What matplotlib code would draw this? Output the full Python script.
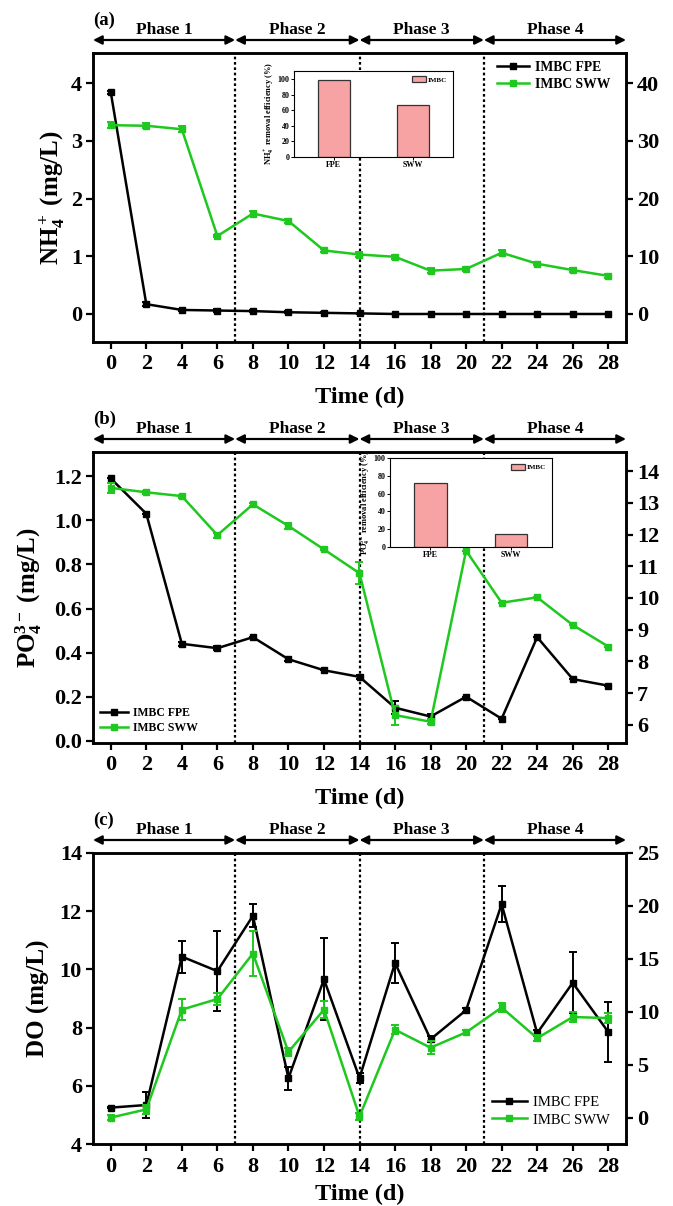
import matplotlib
matplotlib.use('Agg')
import matplotlib.pyplot as plt
from matplotlib.lines import Line2D

plt.rcParams['font.family'] = ['Liberation Serif', 'DejaVu Serif']
plt.rcParams['font.weight'] = 'bold'
plt.rcParams['axes.labelweight'] = 'bold'
plt.rcParams['mathtext.fontset'] = 'custom'
plt.rcParams['mathtext.rm'] = 'Liberation Serif:bold'
plt.rcParams['mathtext.it'] = 'Liberation Serif:italic:bold'
plt.rcParams['mathtext.bf'] = 'Liberation Serif:bold'
plt.rcParams['axes.linewidth'] = 1.8

# ---------------- data ----------------
days = [0, 2, 4, 6, 8, 10, 12, 14, 16, 18, 20, 22, 24, 26, 28]
phase_labels = ['Phase 1', 'Phase 2', 'Phase 3', 'Phase 4']
phase_bounds = [-1, 7, 14, 21, 29]
series_labels = ['IMBC FPE', 'IMBC SWW']
inset_categories = ['FPE', 'SWW']

# (a) NH4+
nh4_fpe = [3.84, 0.17, 0.07, 0.06, 0.05, 0.03, 0.02, 0.01, 0.0, 0.0, 0.0, 0.0, 0.0, 0.0, 0.0]
nh4_fpe_err = [0.03, 0.03, 0.02, 0.02, 0.02, 0.02, 0.01, 0.01, 0.0, 0.0, 0.0, 0.0, 0.0, 0.0, 0.0]
nh4_sww = [32.7, 32.6, 32.0, 13.5, 17.4, 16.1, 11.0, 10.3, 9.9, 7.5, 7.8, 10.6, 8.7, 7.6, 6.6]
nh4_sww_err = [0.5, 0.4, 0.5, 0.2, 0.5, 0.4, 0.2, 0.4, 0.4, 0.4, 0.3, 0.4, 0.3, 0.3, 0.3]
nh4_eff = [99, 67]

# (b) PO4 3-
po4_fpe = [1.19, 1.03, 0.44, 0.42, 0.47, 0.37, 0.32, 0.29, 0.15, 0.11, 0.20, 0.10, 0.47, 0.28, 0.25]
po4_fpe_err = [0.0, 0.0, 0.01, 0.01, 0.0, 0.01, 0.0, 0.01, 0.03, 0.01, 0.0, 0.0, 0.0, 0.0, 0.0]
po4_sww = [13.47, 13.33, 13.21, 11.98, 12.95, 12.27, 11.53, 10.78, 6.31, 6.10, 11.49, 9.85, 10.02, 9.15, 8.47]
po4_sww_err = [0.15, 0.05, 0.05, 0.08, 0.05, 0.1, 0.03, 0.35, 0.3, 0.08, 0.0, 0.0, 0.0, 0.0, 0.0]
po4_eff = [72, 14]

# (c) DO
do_fpe = [5.25, 5.34, 10.44, 9.94, 11.84, 6.26, 9.66, 6.27, 10.22, 7.60, 8.60, 12.24, 7.81, 9.54, 7.85]
do_fpe_err = [0.03, 0.46, 0.55, 1.37, 0.4, 0.4, 1.41, 0.17, 0.68, 0.1, 0.08, 0.62, 0.1, 1.05, 1.02]
do_sww = [0.0, 0.77, 10.2, 11.2, 15.5, 6.2, 10.2, 0.1, 8.3, 6.6, 8.05, 10.4, 7.5, 9.5, 9.4]
do_sww_err = [0.2, 0.4, 1.0, 0.55, 2.1, 0.4, 0.8, 0.3, 0.4, 0.6, 0.2, 0.4, 0.3, 0.5, 0.5]

GREEN = '#1ec81e'
BAR = '#f7a3a3'

W, H = 673, 1206
fig = plt.figure(figsize=(W / 100, H / 100), dpi=100)


def fig_rect(l, t, r, b):
    return [l / W, 1 - b / H, (r - l) / W, (b - t) / H]


def panel(rect, fpe, fpe_err, sww, sww_err, ylim1, yticks1, ylim2, yticks2,
          ylabel, ylabelpad, xlabelpad, letter, leg_kw, leg_size, leg_weight):
    ax = fig.add_axes(fig_rect(*rect))
    ax2 = ax.twinx()
    ax.errorbar(days, fpe, yerr=fpe_err, color='black', lw=1.8, marker='s',
                ms=5, capsize=3, elinewidth=1.4, capthick=1.4, zorder=3)
    ax2.errorbar(days, sww, yerr=sww_err, color=GREEN, lw=1.8, marker='s',
                 ms=5, capsize=3, elinewidth=1.4, capthick=1.4, zorder=3)
    ax.set_xlim(-1, 29)
    ax.set_xticks(days)
    ax.set_ylim(*ylim1)
    ax.set_yticks(yticks1)
    ax2.set_ylim(*ylim2)
    ax2.set_yticks(yticks2)
    for a in (ax, ax2):
        a.tick_params(direction='out', length=5, width=1.6, labelsize=16, pad=3)
        for s in a.spines.values():
            s.set_linewidth(1.8)
    ax.tick_params(axis='x', pad=4)
    for xb in phase_bounds[1:-1]:
        ax.axvline(xb, color='black', ls=(0, (1.2, 1.2)), lw=1.6, zorder=1)
    ax.set_xlabel('Time (d)', fontsize=17.5, labelpad=xlabelpad)
    ax.set_ylabel(ylabel, fontsize=18, labelpad=ylabelpad)
    # phase arrows
    hpx = rect[3] - rect[1]
    ya = 1 + 13 / hpx
    yt = 1 + 23 / hpx
    for i in range(4):
        x0, x1 = phase_bounds[i], phase_bounds[i + 1]
        ax.annotate('', xy=(x1, ya), xytext=(x0, ya),
                    xycoords=('data', 'axes fraction'),
                    textcoords=('data', 'axes fraction'),
                    arrowprops=dict(arrowstyle='<|-|>', color='black', lw=1.6,
                                    mutation_scale=13, shrinkA=0, shrinkB=0),
                    annotation_clip=False)
        ax.text((x0 + x1) / 2, yt, phase_labels[i], transform=ax.get_xaxis_transform(),
                ha='center', va='center', fontsize=12.5, fontweight='bold')
    ax.text(0.0, 1 + 33 / hpx, letter, transform=ax.transAxes, ha='left',
            va='center', fontsize=13.5, fontweight='bold')
    handles = [Line2D([], [], color='black', lw=1.8, marker='s', ms=4),
               Line2D([], [], color=GREEN, lw=1.8, marker='s', ms=4)]
    ax.legend(handles, series_labels, frameon=False, borderpad=0.1,
              handlelength=2.4, handletextpad=0.4, labelspacing=0.3,
              prop={'size': leg_size, 'weight': leg_weight}, **leg_kw)
    return ax, ax2


def inset(rect, values, ylim, ylabel):
    ai = fig.add_axes(fig_rect(*rect))
    ai.bar([0, 1], values, width=0.4, color=BAR, edgecolor='#333333', lw=0.9,
           label='IMBC')
    ai.set_xlim(-0.5, 1.5)
    ai.set_ylim(*ylim)
    ai.set_yticks([0, 20, 40, 60, 80, 100])
    ai.set_xticks([0, 1])
    ai.set_xticklabels(inset_categories)
    ai.tick_params(direction='out', length=2, width=0.7, labelsize=5.8, pad=1)
    for s in ai.spines.values():
        s.set_linewidth(0.8)
    ai.set_ylabel(ylabel, fontsize=6.0, labelpad=1)
    ai.legend(loc='upper right', frameon=False, prop={'size': 5.0, 'weight': 'bold'},
              handlelength=2.0, handleheight=1.0, borderpad=0.3, handletextpad=0.3)
    return ai


# (a)
panel((93, 53, 626, 341.7), nh4_fpe, nh4_fpe_err, nh4_sww, nh4_sww_err,
      (-0.48, 4.52), [0, 1, 2, 3, 4], (-4.8, 45.2), [0, 10, 20, 30, 40],
      r'NH$_4^+$ (mg/L)', 3, 9, '(a)',
      dict(loc='upper left', bbox_to_anchor=(0.742, 1.0)), 9.8, 'bold')
inset((294, 70.7, 453, 156.7), nh4_eff, (0, 110.7),
      r'NH$_4^+$ removal efficiency (%)')

# (b)
panel((93, 452, 626, 743), po4_fpe, po4_fpe_err, po4_sww, po4_sww_err,
      (-0.01, 1.31), [0.0, 0.2, 0.4, 0.6, 0.8, 1.0, 1.2], (5.43, 14.6),
      [6, 7, 8, 9, 10, 11, 12, 13, 14],
      r'PO$_4^{3-}$ (mg/L)', 7, 9, '(b)',
      dict(loc='lower left', bbox_to_anchor=(0.0, 0.005)), 8.5, 'bold')
inset((390, 458.3, 551.7, 546.7), po4_eff, (0, 100),
      r'PO$_4^{3-}$ removal efficiency (%)')

# (c)
panel((93, 853, 626, 1144), do_fpe, do_fpe_err, do_sww, do_sww_err,
      (4, 14), [4, 6, 8, 10, 12, 14], (-2.5, 25), [0, 5, 10, 15, 20, 25],
      'DO (mg/L)', 7, 5, '(c)',
      dict(loc='lower right', bbox_to_anchor=(0.985, 0.03)), 10.5, 'normal')

fig.savefig('out.png', dpi=100)
